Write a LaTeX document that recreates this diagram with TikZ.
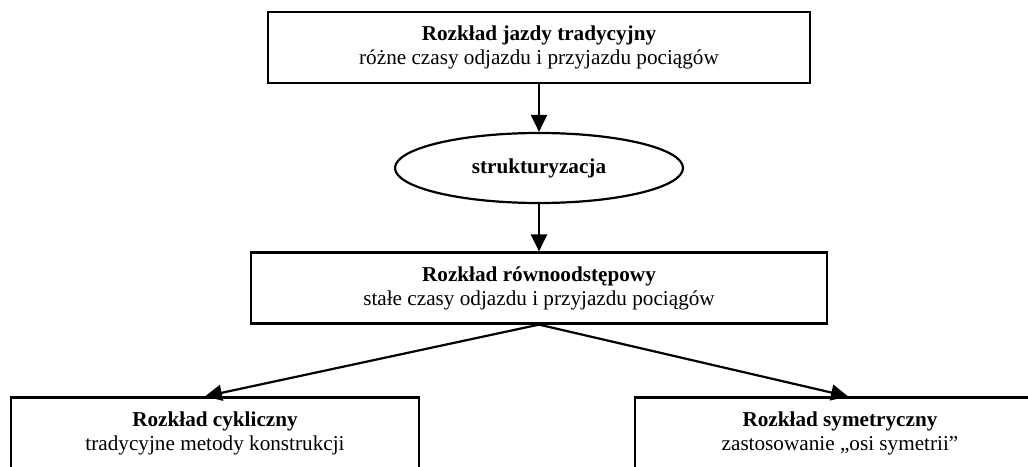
\documentclass[tikz,border=0pt]{standalone}
\usepackage{fontspec}
\setmainfont{Liberation Serif}
\usetikzlibrary{arrows.meta,shapes.geometric}
\begin{document}
\begin{tikzpicture}[x=0.5pt,y=-0.5pt,
  txt/.style={align=center,inner sep=0pt,font=\fontsize{10.6pt}{12pt}\selectfont},
  box/.style={txt,draw,line width=1.1pt,minimum height=35.5pt},
  oval/.style={txt,draw,ellipse,line width=1.1pt,minimum width=144pt,minimum height=35pt},
  conn/.style={line width=1.1pt,-{Triangle[length=8.5pt,width=8pt]}}]
\useasboundingbox (0,0) rectangle (1028,466);
\clip (0,0) rectangle (1028,466);
\node[box,minimum width=271pt] (top) at (539,47.5)
  {\textbf{Rozkład jazdy tradycyjny}\\różne czasy odjazdu i przyjazdu pociągów};
\node[oval] (str) at (539,168) {\textbf{strukturyzacja}};
\node[box,minimum width=288pt] (mid) at (539,288)
  {\textbf{Rozkład równoodstępowy}\\stałe czasy odjazdu i przyjazdu pociągów};
\node[box,minimum width=204pt] (lb) at (215,433)
  {\textbf{Rozkład cykliczny}\\tradycyjne metody konstrukcji};
\node[box,minimum width=205pt] (rb) at (840,433)
  {\textbf{Rozkład symetryczny}\\zastosowanie „osi symetrii”};
\draw[conn] (top) -- (str);
\draw[conn] (str) -- (mid);
\draw[conn] (mid.south) -- ([xshift=-5pt]lb.north);
\draw[conn] (mid.south) -- ([xshift=4pt]rb.north);
\end{tikzpicture}
\end{document}
